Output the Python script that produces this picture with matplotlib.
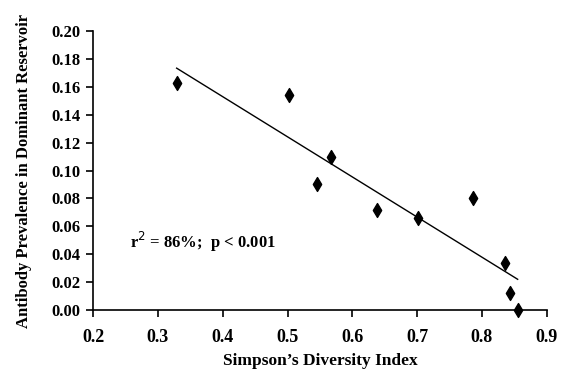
import numpy as np
import matplotlib.pyplot as plt

plt.rcParams['font.family'] = ['Liberation Serif', 'DejaVu Serif']

# Simpson's diversity index vs antibody prevalence
diversity = [0.329, 0.502, 0.567, 0.545, 0.638, 0.702, 0.786, 0.835, 0.843, 0.855]
prevalence = [0.163, 0.154, 0.110, 0.090, 0.072, 0.066, 0.080, 0.034, 0.012, 0.000]

xticks = [0.2, 0.3, 0.4, 0.5, 0.6, 0.7, 0.8, 0.9]
yticks = [0.00, 0.02, 0.04, 0.06, 0.08, 0.10, 0.12, 0.14, 0.16, 0.18, 0.20]

fig = plt.figure(figsize=(5.62, 3.74), dpi=100)
ax = fig.add_axes([0.1655, 0.171, 0.8075, 0.746])

ax.scatter(diversity, prevalence, marker='d', s=50, color='black', zorder=3, clip_on=False)

# least squares trend line
slope, icpt = np.polyfit(diversity, prevalence, 1)
xl = np.array([min(diversity), max(diversity)])
ax.plot(xl, slope * xl + icpt, color='black', lw=1.0)

ax.set_xlim(0.2, 0.9)
ax.set_ylim(0.0, 0.2)
ax.set_xticks(xticks)
ax.set_yticks(yticks)
ax.set_xticklabels([f'{v:.1f}' for v in xticks], fontsize=13, fontweight='bold')
ax.set_yticklabels([f'{v:.2f}' for v in yticks], fontsize=12, fontweight='bold')
ax.spines['top'].set_visible(False)
ax.spines['right'].set_visible(False)
ax.spines['left'].set_linewidth(1.2)
ax.spines['bottom'].set_linewidth(1.2)
ax.tick_params(direction='out', length=5, width=1.2, pad=4)
ax.tick_params(axis='x', pad=9)

ax.set_xlabel("Simpson\u2019s Diversity Index", fontsize=12.5, fontweight='bold', labelpad=5)
ax.set_ylabel('Antibody Prevalence in Dominant Reservoir', fontsize=12, fontweight='bold', labelpad=14)

ax.text(0.257, 0.0485, r'r$^{2}$ = 86%;  p < 0.001', fontsize=12, fontweight='bold',
        va='center', ha='left')

fig.savefig('out.png', dpi=100)
